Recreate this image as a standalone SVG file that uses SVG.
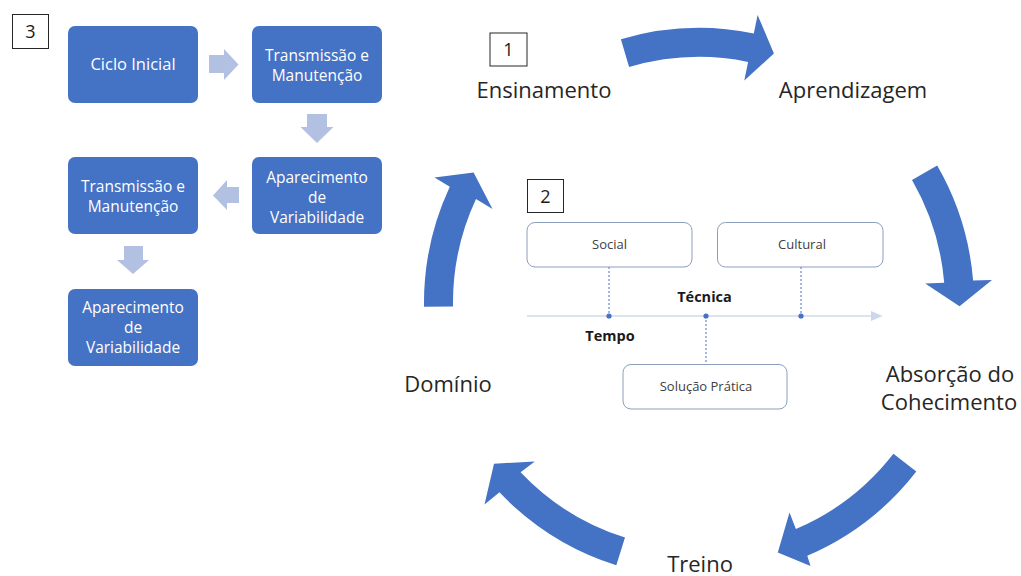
<svg xmlns="http://www.w3.org/2000/svg" width="1021" height="576" viewBox="0 0 1021 576">
<style>
.bg{fill:#ffffff}
.blue{fill:#4472C4}
.bbox{fill:#4472C4}
.btxt{font-family:"Open Sans","Noto Sans",sans-serif;font-size:15.5px;fill:#ffffff;text-anchor:middle}
.lt{fill:#B2C0E1}
.num{fill:#ffffff;stroke:#262626;stroke-width:1}
.numt{font-family:"Open Sans","Noto Sans",sans-serif;font-size:18px;fill:#1a1a1a;text-anchor:middle}
.cyc{font-family:"Open Sans","Noto Sans",sans-serif;font-size:22px;fill:#262626;text-anchor:middle}
.tbox{fill:#ffffff;stroke:#8A9EBB;stroke-width:1}
.ttxt{font-family:"Open Sans","Noto Sans",sans-serif;font-size:13px;fill:#404040;text-anchor:middle}
.bold{font-family:"Open Sans","Noto Sans",sans-serif;font-size:14.5px;font-weight:bold;fill:#1a1a1a;text-anchor:middle}
.dash{stroke:#4472C4;stroke-width:1;stroke-dasharray:2 2;fill:none}
.dot{fill:#4472C4}
</style>
<rect class="bg" x="0" y="0" width="1021" height="576"/>

<!-- Section 3: flow -->
<g id="label3"><rect class="num" x="12.5" y="14.5" width="36" height="34"/><text class="numt" x="30.5" y="38">3</text></g>
<g id="n-ciclo"><rect class="bbox" x="68" y="26" width="130" height="77" rx="7"/><text class="btxt" x="133" y="70" style="font-size:16.5px">Ciclo Inicial</text></g>
<g id="n-trans1"><rect class="bbox" x="252" y="26" width="130" height="77" rx="7"/><text class="btxt" x="317" y="61">Transmissão e</text><text class="btxt" x="317" y="81">Manutenção</text></g>
<g id="n-apar1"><rect class="bbox" x="252" y="157" width="130" height="77" rx="7"/><text class="btxt" x="317" y="183">Aparecimento</text><text class="btxt" x="317" y="203">de</text><text class="btxt" x="317" y="223">Variabilidade</text></g>
<g id="n-trans2"><rect class="bbox" x="68" y="157" width="130" height="77" rx="7"/><text class="btxt" x="133" y="191.5">Transmissão e</text><text class="btxt" x="133" y="211.5">Manutenção</text></g>
<g id="n-apar2"><rect class="bbox" x="68" y="289" width="130" height="77" rx="7"/><text class="btxt" x="133" y="313">Aparecimento</text><text class="btxt" x="133" y="333">de</text><text class="btxt" x="133" y="353">Variabilidade</text></g>
<g id="flow-arrows">
<polygon class="lt" points="209,55 224,55 224,49 238.5,64.5 224,80 224,73 209,73"/>
<polygon class="lt" points="307,114 327,114 327,127 333.5,127 317,143 300.5,127 307,127"/>
<polygon class="lt" points="239,187 227,187 227,180 213,195.5 227,210 227,203 239,203"/>
<polygon class="lt" points="124,246 143,246 143,260 149,260 133,274 117,260 124,260"/>
</g>

<!-- Section 1: cycle -->
<g id="label1"><rect class="num" x="490" y="33" width="37" height="33"/><text class="numt" x="508.5" y="56">1</text></g>
<g id="n-ensinamento"><text class="cyc" x="544" y="98">Ensinamento</text></g>
<g id="n-aprendizagem"><text class="cyc" x="853" y="98">Aprendizagem</text></g>
<g id="n-absorcao"><text class="cyc" x="950" y="382">Absorção do</text><text class="cyc" x="949" y="410">Cohecimento</text></g>
<g id="n-treino"><text class="cyc" x="700" y="572">Treino</text></g>
<g id="n-dominio"><text class="cyc" x="448" y="392">Domínio</text></g>
<g id="cycle-arrows">
<path class="blue" d="M620.9,39.3 A275,275 0 0 1 753.8,33.5 L757.6,14.9 L773.9,53.5 L744.3,80.6 L748.1,61.9 A246,246 0 0 0 629.1,67.1 Z"/>
<path class="blue" d="M937.2,165.5 A275,275 0 0 1 973.1,280.5 L992,280 L959.5,306.2 L925.2,283.5 L944.2,282.8 A246,246 0 0 0 912,180 Z"/>
<path class="blue" d="M916.3,471.5 A275,275 0 0 1 807.3,555.8 L810.5,566 L777.8,552.5 L789.5,512.5 L795.9,529.1 A246,246 0 0 0 893.4,453.8 Z"/>
<path class="blue" d="M616.3,565.3 A275,275 0 0 1 499.5,492.3 L484.5,504.5 L494,463.7 L534.8,461.5 L520.6,472.3 A246,246 0 0 0 625,537.6 Z"/>
<path class="blue" d="M424,306.8 A275,275 0 0 1 449.8,186.8 L434.5,177.5 L473.6,172.4 L492.5,209 L476,199 A246,246 0 0 0 453,306.4 Z"/>
</g>

<!-- Section 2: timeline -->
<g id="label2"><rect class="num" x="527.5" y="179.5" width="36" height="33"/><text class="numt" x="545.5" y="202.5">2</text></g>
<g id="timeline-connectors">
<line x1="527" y1="316" x2="872" y2="316" stroke="#DCE2EE" stroke-width="2"/>
<polygon points="871,311 882.5,316 871,321" fill="#CDD6EA"/>
<line class="dash" x1="609" y1="267" x2="609" y2="316"/>
<line class="dash" x1="801" y1="267" x2="801" y2="316"/>
<line class="dash" x1="706" y1="316" x2="706" y2="364"/>
<circle class="dot" cx="609" cy="316" r="2.6"/>
<circle class="dot" cx="706" cy="316" r="2.6"/>
<circle class="dot" cx="801" cy="316" r="2.6"/>
</g>
<g id="n-social"><rect class="tbox" x="527" y="222.5" width="165" height="44.5" rx="8"/><text class="ttxt" x="609.5" y="249">Social</text></g>
<g id="n-cultural"><rect class="tbox" x="717.5" y="222.5" width="165.5" height="44.5" rx="8"/><text class="ttxt" x="802" y="249">Cultural</text></g>
<g id="n-solucao"><rect class="tbox" x="623" y="364.5" width="164" height="44.5" rx="8"/><text class="ttxt" x="706" y="391">Solução Prática</text></g>
<g id="n-tecnica"><text class="bold" x="704.5" y="302">Técnica</text></g>
<g id="n-tempo"><text class="bold" x="610" y="341">Tempo</text></g>
</svg>
